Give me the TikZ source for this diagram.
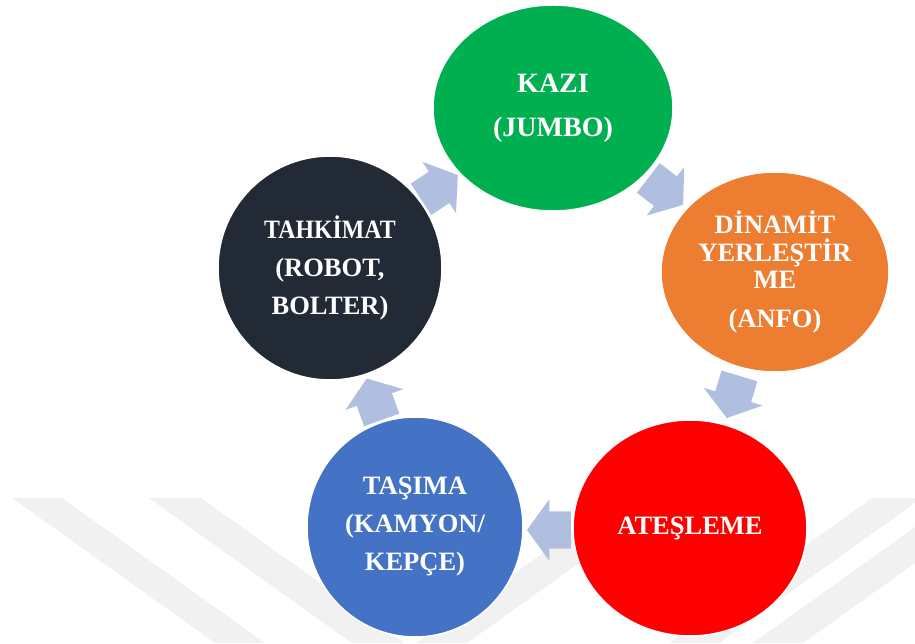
\documentclass[tikz,border=0pt]{standalone}
\usepackage{fontspec}
\setmainfont{Liberation Serif}
\usetikzlibrary{shapes.geometric,shapes.arrows}

\definecolor{kazigreen}{RGB}{0,176,80}
\definecolor{tahkimatdark}{RGB}{34,42,53}
\definecolor{dinamitorange}{RGB}{237,125,49}
\definecolor{ateslemered}{RGB}{255,0,0}
\definecolor{tasimablue}{RGB}{68,114,196}
\definecolor{cyclearrow}{RGB}{176,190,224}
\definecolor{markgray}{RGB}{241,241,241}

\tikzset{
  stage/.style={ellipse, draw=white, line width=1.5pt, inner sep=0pt,
    text=white, align=center},
  stagetext/.style={font=\fontsize{26.5}{38}\selectfont\bfseries},
  cyclearrowbox/.style={single arrow, fill=cyclearrow, draw=none,
    inner xsep=11pt, inner ysep=18.5pt, single arrow head extend=12pt,
    single arrow tip angle=108, minimum width=0pt, minimum height=44pt,
    anchor=tip},
  markstripe/.style={fill=markgray, draw=none}
}

\begin{document}
\begin{tikzpicture}[x=1pt,y=1pt]
\useasboundingbox (0,0) rectangle (915,643);

% faint chevron watermark along the bottom
\begin{scope}
  \clip (0,0) rectangle (915,643);
  \fill[markstripe] (12,145) -- (62,145) -- (265,0) -- (215,0) -- cycle;
  \fill[markstripe] (149,145) -- (201,145) -- (404,0) -- (352,0) -- cycle;
  \fill[markstripe] (620,145) -- (670,145) -- (467,0) -- (417,0) -- cycle;
  \fill[markstripe] (872,145) -- (922,145) -- (719,0) -- (669,0) -- cycle;
  \fill[markstripe] (956,145) -- (1006,145) -- (803,0) -- (753,0) -- cycle;
\end{scope}

% block arrows of the cycle
\node[cyclearrowbox, rotate=33.3]   (a1) at (458,468) {};
\node[cyclearrowbox, rotate=-37.7]  (a2) at (683.3,438) {};
\node[cyclearrowbox, rotate=-106.7] (a3) at (726.7,224.7) {};
\node[cyclearrowbox, rotate=180]    (a4) at (526.7,113) {};
\node[cyclearrowbox, rotate=109.8]  (a5) at (366.7,264.7) {};

% the five stages
\node[stage, fill=kazigreen, minimum width=240pt, minimum height=206pt,
      font=\fontsize{28}{44}\selectfont\bfseries]
  (kazi) at (553,535) {KAZI\\(JUMBO)};
\node[stage, fill=dinamitorange, minimum width=228pt, minimum height=200pt,
      font=\fontsize{26.5}{27.5}\selectfont\bfseries]
  (dinamit) at (775,371) {DİNAMİT\\YERLEŞTİR\\ME\\[11pt](ANFO)};
\node[stage, stagetext, fill=ateslemered, minimum width=234pt, minimum height=216pt]
  (atesleme) at (690,115) {ATEŞLEME};
\node[stage, stagetext, fill=tasimablue, minimum width=216pt, minimum height=220pt]
  (tasima) at (415,116) {TAŞIMA\\(KAMYON/\\KEPÇE)};
\node[stage, stagetext, fill=tahkimatdark, minimum width=224pt, minimum height=224pt]
  (tahkimat) at (330,375) {\scalebox{0.9}[1]{TAHKİMAT}\\(ROBOT,\\BOLTER)};
\end{tikzpicture}
\end{document}
